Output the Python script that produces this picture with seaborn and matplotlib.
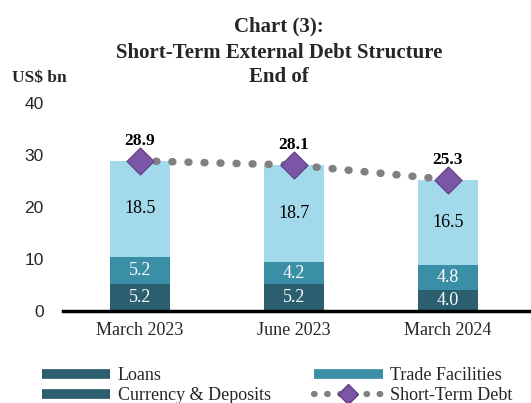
import matplotlib
matplotlib.use("Agg")
import matplotlib.pyplot as plt
from matplotlib.lines import Line2D
import seaborn as sns
import pandas as pd
import numpy as np

categories = ["March 2023", "June 2023", "March 2024"]
loans = [5.2, 5.2, 4.0]
trade = [5.2, 4.2, 4.8]
currency = [18.5, 18.7, 16.5]
total = [28.9, 28.1, 25.3]

c_loans = "#2b5f6f"
c_trade = "#3a8ea6"
c_curr = "#a2d9eb"
c_mark = "#7b55a6"
c_dot = "#808080"

sns.set_theme(style="white")
plt.rcParams["font.family"] = ["Liberation Serif", "DejaVu Serif"]

df = pd.DataFrame({"cat": categories, "loans": loans, "trade": trade,
                   "currency": currency, "total": total})
df["lt"] = df["loans"] + df["trade"]
df["all"] = df["lt"] + df["currency"]

fig = plt.figure(figsize=(5.31, 4.03), dpi=100)
ax = fig.add_axes([0.1186, 0.228, 0.8814, 0.516])

bw = 0.39
sns.barplot(data=df, x="cat", y="all", color=c_curr, width=bw, ax=ax, saturation=1, linewidth=0)
sns.barplot(data=df, x="cat", y="lt", color=c_trade, width=bw, ax=ax, saturation=1, linewidth=0)
sns.barplot(data=df, x="cat", y="loans", color=c_loans, width=bw, ax=ax, saturation=1, linewidth=0)

xs = np.arange(len(categories))
sns.lineplot(x=xs, y=df["total"].values, ax=ax, color=c_dot, linestyle=(0, (0.1, 2.0)),
             linewidth=5.5, dash_capstyle="round", zorder=4)
ax.scatter(xs, df["total"].values, marker="D", s=190, color=c_mark, zorder=5,
           edgecolor="#5e3d85", linewidth=0.8)

for i in range(len(categories)):
    ax.text(i, loans[i] / 2, f"{loans[i]:.1f}", ha="center", va="center", color="white", fontsize=13)
    ax.text(i, loans[i] + trade[i] / 2, f"{trade[i]:.1f}", ha="center", va="center", color="white", fontsize=13)
    ax.text(i, loans[i] + trade[i] + currency[i] / 2, f"{currency[i]:.1f}", ha="center", va="center",
            color="black", fontsize=13)
    ax.text(i, total[i] + 2.3, f"{total[i]:.1f}", ha="center", va="bottom", color="black",
            fontsize=12.5, fontweight="bold")

ax.set_ylim(0, 40)
ax.set_xlim(-0.5, 2.54)
ax.set_yticks([0, 10, 20, 30, 40])
ax.set_yticklabels(["0", "10", "20", "30", "40"], family="Liberation Sans", fontsize=12.5)
ax.set_xlabel("")
ax.set_ylabel("")
for s in ["top", "right", "left"]:
    ax.spines[s].set_visible(False)
ax.spines["bottom"].set_linewidth(2.5)
ax.spines["bottom"].set_color("black")
ax.tick_params(axis="y", length=0, pad=14)
ax.tick_params(axis="x", which="major", length=0, pad=8, labelsize=13)
ax.set_xticks([-0.5, 0.5, 1.5, 2.5], minor=True)
ax.tick_params(axis="x", which="minor", length=5, width=2, direction="out", color="black")
for lab in ax.get_xticklabels():
    lab.set_family("Liberation Serif")

fig.text(0.525, 0.935, "Chart (3):", ha="center", va="center", fontsize=15, fontweight="bold")
fig.text(0.525, 0.868, "Short-Term External Debt Structure", ha="center", va="center",
         fontsize=15, fontweight="bold")
fig.text(0.525, 0.808, "End of", ha="center", va="center", fontsize=15, fontweight="bold")
fig.text(0.022, 0.807, "US$ bn", ha="left", va="center", fontsize=12.5, fontweight="bold")

handles = [
    Line2D([0], [0], color=c_loans, linewidth=7, solid_capstyle="butt"),
    Line2D([0], [0], color=c_loans, linewidth=7, solid_capstyle="butt"),
    Line2D([0], [0], color=c_trade, linewidth=7, solid_capstyle="butt"),
    Line2D([0], [0], color=c_dot, linewidth=4.5, linestyle=(0, (0.1, 2.0)), dash_capstyle="round",
           marker="D", markersize=10, markerfacecolor=c_mark, markeredgecolor="#5e3d85"),
]
labels = ["Loans", "Currency & Deposits", "Trade Facilities", "Short-Term Debt"]
fig.legend(handles, labels, ncol=2, loc="lower left", bbox_to_anchor=(0.055, -0.035),
           frameon=False, fontsize=13, handlelength=3.8, handletextpad=0.4,
           columnspacing=2.4, labelspacing=0.2, borderpad=0.2)

fig.savefig("out.png", dpi=100)
